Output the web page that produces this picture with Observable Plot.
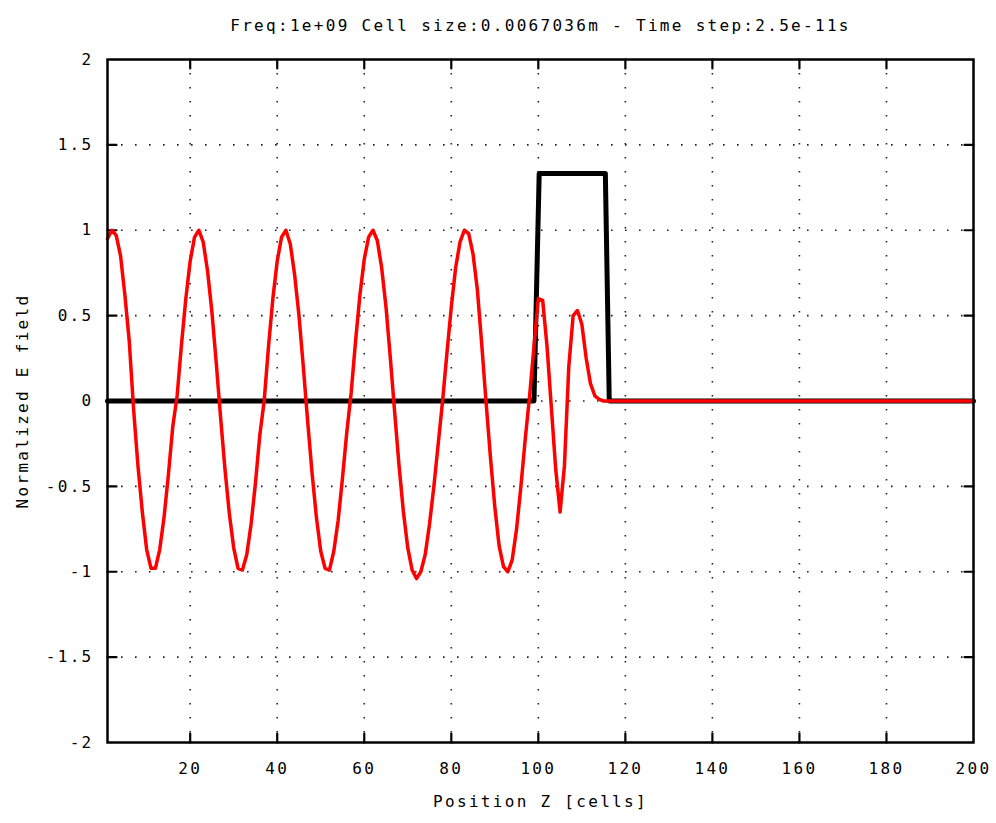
<!DOCTYPE html>
<html>
<head>
<meta charset="utf-8">
<script src="https://cdn.jsdelivr.net/npm/d3@7"></script>
<script src="https://cdn.jsdelivr.net/npm/@observablehq/plot@0.6"></script>
<style>
  html, body { margin: 0; padding: 0; background: #fff; }
  svg text { letter-spacing: 2.3px; }
</style>
</head>
<body>
<div id="chart"></div>
<script>
const titleText = "Freq:1e+09 Cell size:0.0067036m - Time step:2.5e-11s";
const xLabel = "Position Z [cells]";
const yLabel = "Normalized E field";

const xTicks = [20, 40, 60, 80, 100, 120, 140, 160, 180, 200];
const xTickLabels = ["20", "40", "60", "80", "100", "120", "140", "160", "180", "200"];
const yTicks = [2, 1.5, 1, 0.5, 0, -0.5, -1, -1.5, -2];
const yTickLabels = ["2", "1.5", "1", "0.5", "0", "-0.5", "-1", "-1.5", "-2"];

// Black: normalized material profile
const blackZ = [1, 99, 100.2, 115.4, 116.3, 200];
const blackE = [0, 0, 1.333, 1.333, 0, 0];

// Red: normalized E field, cells 1..115, then flat zero to 200
const redE = [
  0.95, 1.0, 0.97, 0.85, 0.62, 0.35, -0.05, -0.38, -0.65, -0.87,
  -0.98, -0.98, -0.87, -0.68, -0.43, -0.15, 0.03, 0.33, 0.6, 0.82,
  0.96, 1.0, 0.93, 0.76, 0.52, 0.22, -0.1, -0.4, -0.66, -0.86,
  -0.98, -0.99, -0.9, -0.72, -0.48, -0.2, 0.0, 0.32, 0.6, 0.82,
  0.96, 1.0, 0.92, 0.74, 0.5, 0.2, -0.12, -0.42, -0.68, -0.88,
  -0.98, -0.99, -0.88, -0.7, -0.45, -0.18, 0.05, 0.35, 0.62, 0.83,
  0.96, 1.0, 0.94, 0.78, 0.55, 0.25, -0.07, -0.38, -0.65, -0.86,
  -0.99, -1.04, -1.0, -0.9, -0.72, -0.5, -0.25, 0.0, 0.28, 0.55,
  0.78, 0.93, 1.0, 0.98, 0.86, 0.65, 0.33, -0.01, -0.33, -0.62,
  -0.85, -0.97, -1.0, -0.93, -0.75, -0.5, -0.22, 0.03, 0.32, 0.6,
  0.59, 0.32, -0.04, -0.4, -0.65, -0.38, 0.2, 0.5, 0.53, 0.45,
  0.25, 0.1, 0.03, 0.01, 0, 0
];
const redZ = [...d3.range(1, 116), 200];

const black = blackZ.map((z, i) => ({z, e: blackE[i]}));
const red = redZ.map((z, i) => ({z, e: redE[i]}));

const xLab = new Map(xTicks.map((t, i) => [t, xTickLabels[i]]));
const yLab = new Map(yTicks.map((t, i) => [t, yTickLabels[i]]));

const font = "'DejaVu Sans Mono', monospace";

// inward tick shape: a straight segment
const tickShape = {draw(context, l) { context.moveTo(0, 0); context.lineTo(0, -l); }};
const tickOpts = {length: 9, anchor: "start", shape: tickShape, stroke: "#000", strokeWidth: 2.2};

const chart = Plot.plot({
  width: 996,
  height: 823,
  marginLeft: 107,
  marginRight: 23,
  marginTop: 59,
  marginBottom: 81,
  style: {fontFamily: font, fontSize: "16px", color: "#000", background: "#fff"},
  x: {domain: [1, 200]},
  y: {domain: [-2, 2]},
  marks: [
    Plot.gridX(xTicks.filter(t => t < 200), {stroke: "#222", strokeOpacity: 1, strokeWidth: 1.6, strokeDasharray: "1.6,12.4"}),
    Plot.gridY(yTicks.filter(t => t > -2 && t < 2), {stroke: "#222", strokeOpacity: 1, strokeWidth: 1.6, strokeDasharray: "1.6,12.4"}),
    Plot.vector(xTicks.filter(t => t < 200), {x: d => d, frameAnchor: "bottom", rotate: 0, ...tickOpts}),
    Plot.vector(xTicks.filter(t => t < 200), {x: d => d, frameAnchor: "top", rotate: 180, ...tickOpts}),
    Plot.vector(yTicks.filter(t => t > -2 && t < 2), {y: d => d, frameAnchor: "left", rotate: 90, ...tickOpts}),
    Plot.vector(yTicks.filter(t => t > -2 && t < 2), {y: d => d, frameAnchor: "right", rotate: -90, ...tickOpts}),
    Plot.axisX(xTicks, {anchor: "bottom", tickSize: 0, tickPadding: 20, tickFormat: d => xLab.get(d), fontSize: 16, label: null}),
    Plot.axisY(yTicks, {anchor: "left", tickSize: 0, tickPadding: 14, tickFormat: d => yLab.get(d), fontSize: 16, label: null}),
    Plot.line(black, {x: "z", y: "e", stroke: "#000", strokeWidth: 5}),
    Plot.line(red, {x: "z", y: "e", stroke: "#ff0000", strokeWidth: 3.5}),
    Plot.frame({stroke: "#000", strokeWidth: 2.5}),
    Plot.text([titleText], {frameAnchor: "top", dy: -40, fontSize: 16, fill: "#000"}),
    Plot.text([xLabel], {frameAnchor: "bottom", dy: 64, fontSize: 16, fill: "#000"}),
    Plot.text([yLabel], {frameAnchor: "left", dx: -85, rotate: -90, textAnchor: "middle", fontSize: 16, fill: "#000"})
  ]
});

document.getElementById("chart").appendChild(chart);
</script>
</body>
</html>
